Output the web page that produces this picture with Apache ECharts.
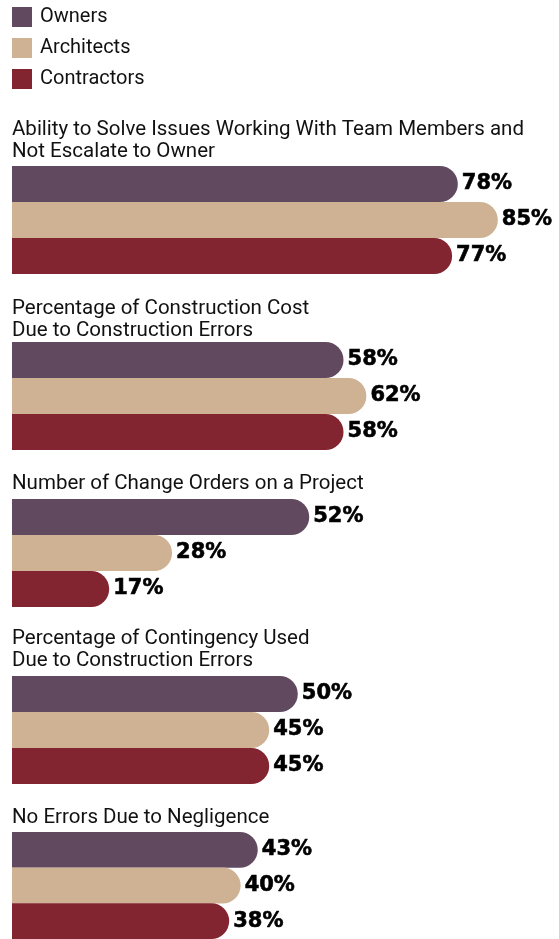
<!DOCTYPE html>
<html>
<head>
<meta charset="utf-8">
<script src="https://cdn.jsdelivr.net/npm/echarts@6/dist/echarts.min.js"></script>
<style>
html,body{margin:0;padding:0;background:#fff;}
#chart{width:559px;height:939px;}
</style>
</head>
<body>
<div id="chart"></div>
<script>
const groupTitles = [
  "Ability to Solve Issues Working With Team Members and\nNot Escalate to Owner",
  "Percentage of Construction Cost\nDue to Construction Errors",
  "Number of Change Orders on a Project",
  "Percentage of Contingency Used\nDue to Construction Errors",
  "No Errors Due to Negligence"
];
const seriesNames = ["Owners", "Architects", "Contractors"];
const owners = [78, 58, 52, 50, 43];
const architects = [85, 62, 28, 45, 40];
const contractors = [77, 58, 17, 45, 38];

const colors = ["#614a5f", "#cfb294", "#832530"];
const values = [owners, architects, contractors];

const gridTops = [166, 342, 499, 676, 832];
const titleTops = [119, 298, 473, 628, 807];
const TITLE_FONT = "'Roboto', sans-serif";

const titles = [], grids = [], xAxes = [], yAxes = [], series = [];
groupTitles.forEach((t, g) => {
  titles.push({
    text: t, left: 12, top: titleTops[g], padding: 0,
    textStyle: { fontFamily: TITLE_FONT, fontSize: 20.5, fontWeight: 'normal', color: '#111', lineHeight: 22 }
  });
  grids.push({ left: 12, top: gridTops[g], width: 543, height: 108, containLabel: false });
  xAxes.push({ type: 'value', gridIndex: g, min: 0, max: 95, show: false });
  yAxes.push({ type: 'category', gridIndex: g, data: seriesNames, inverse: true, show: false });
  seriesNames.forEach((name, s) => {
    series.push({
      type: 'bar', name: name, xAxisIndex: g, yAxisIndex: g,
      barWidth: 36, barGap: '-100%',
      itemStyle: { color: colors[s], borderRadius: [0, 18, 18, 0] },
      label: {
        show: true, position: 'right', distance: 4,
        formatter: '{c}%', color: '#000',
        fontFamily: "'DejaVu Sans', sans-serif", fontWeight: 'bold', fontSize: 21,
        textBorderColor: '#000', textBorderWidth: 0.6
      },
      silent: true, animation: false,
      data: seriesNames.map((_, k) => k === s ? values[s][g] : '-')
    });
  });
});

const chart = echarts.init(document.getElementById('chart'));
chart.setOption({
  animation: false,
  color: colors,
  title: titles,
  legend: {
    orient: 'vertical', left: 12, top: 7, padding: 0,
    itemWidth: 20, itemHeight: 20, itemGap: 11, icon: 'rect',
    selectedMode: false,
    data: seriesNames,
    textStyle: { fontFamily: TITLE_FONT, fontSize: 20, color: '#111', padding: [0, 0, 0, 3] }
  },
  grid: grids,
  xAxis: xAxes,
  yAxis: yAxes,
  series: series
});
</script>
</body>
</html>
